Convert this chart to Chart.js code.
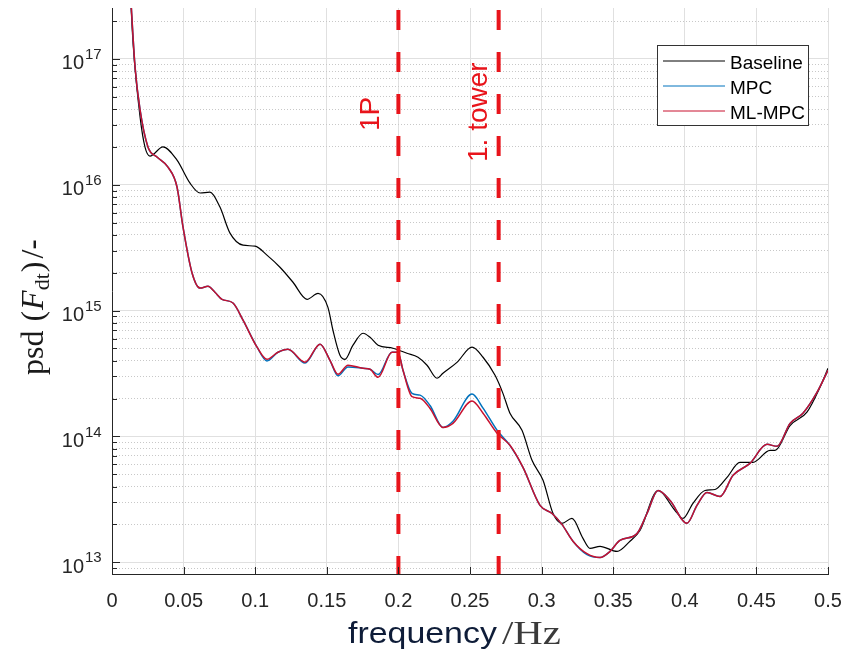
<!DOCTYPE html>
<html><head><meta charset="utf-8">
<script src="https://cdn.jsdelivr.net/npm/chart.js@4.4.1/dist/chart.umd.min.js"></script>
<style>html,body{margin:0;padding:0;background:#fff;}#wrap{width:846px;height:658px;}</style>
</head><body><div id="wrap"><canvas id="c" width="846" height="658"></canvas></div>
<script>
// ---------- data ----------
const baselineFreq = [0.0125,0.0147,0.0196,0.0230,0.0265,0.0356,0.0454,0.0545,0.0615,0.0684,0.0754,0.0824,0.0915,0.0999,0.1082,0.1173,0.1264,0.1362,0.1439,0.1508,0.1543,0.1592,0.1627,0.1683,0.1753,0.1802,0.1858,0.1962,0.2060,0.2137,0.2200,0.2270,0.2311,0.2409,0.2514,0.2591,0.2675,0.2730,0.2779,0.2863,0.2933,0.3010,0.3080,0.3142,0.3212,0.3289,0.3338,0.3408,0.3527,0.3617,0.3687,0.3813,0.3932,0.3987,0.4057,0.4141,0.4211,0.4295,0.4385,0.4476,0.4595,0.4630,0.4735,0.4853,0.4944,0.5000];
const baselinePsd = [4.0e17,1.34e17,3.46e16,2.0e16,1.69e16,2.0e16,1.57e16,1.03e16,8.6e15,8.75e15,6.65e15,4.13e15,3.31e15,3.25e15,2.76e15,2.21e15,1.68e15,1.23e15,1.37e15,1.06e15,6.98e14,4.42e14,4.10e14,5.31e14,6.61e14,6.14e14,5.31e14,5.02e14,4.58e14,4.26e14,3.68e14,2.90e14,3.18e14,3.88e14,5.12e14,4.26e14,3.06e14,2.20e14,1.53e14,1.12e14,6.46e13,4.48e13,2.44e13,2.04e13,2.23e13,1.55e13,1.29e13,1.34e13,1.22e13,1.47e13,1.79e13,3.72e13,2.58e13,2.23e13,2.94e13,3.72e13,3.79e13,4.73e13,6.22e13,6.22e13,7.74e13,7.74e13,1.22e14,1.56e14,2.46e14,3.48e14];

const ctrlFreq = [0.0125,0.0161,0.0196,0.0251,0.0314,0.0391,0.0454,0.0496,0.0559,0.0615,0.0670,0.0719,0.0768,0.0845,0.0915,0.1013,0.1082,0.1159,0.1229,0.1348,0.1453,0.1522,0.1578,0.1648,0.1753,0.1802,0.1858,0.1955,0.1997,0.2032,0.2095,0.2151,0.2221,0.2311,0.2381,0.2514,0.2591,0.2689,0.2779,0.2870,0.2989,0.3073,0.3142,0.3219,0.3317,0.3408,0.3478,0.3547,0.3666,0.3736,0.3813,0.3897,0.4015,0.4085,0.4155,0.4246,0.4337,0.4455,0.4574,0.4644,0.4735,0.4825,0.4923,0.5000];
const mlmpcPsd = [4.0e17,8.63e16,3.93e16,2.0e16,1.66e16,1.38e16,9.6e15,4.6e15,1.99e15,1.51e15,1.56e15,1.40e15,1.23e15,1.15e15,8.4e14,5.12e14,4.10e14,4.67e14,4.93e14,3.89e14,5.41e14,4.03e14,3.12e14,3.68e14,3.48e14,3.42e14,2.95e14,4.67e14,4.67e14,3.36e14,2.07e14,2.01e14,1.67e14,1.18e14,1.27e14,1.91e14,1.53e14,1.06e14,8.5e13,5.68e13,2.83e13,2.44e13,2.0e13,1.47e13,1.17e13,1.09e13,1.22e13,1.49e13,1.69e13,2.44e13,3.72e13,3.10e13,2.04e13,2.83e13,3.59e13,3.33e13,4.91e13,6.11e13,8.65e13,8.34e13,1.27e14,1.53e14,2.24e14,3.36e14];
const mpcPsd = [4.0e17,8.63e16,3.93e16,2.0e16,1.66e16,1.38e16,9.6e15,4.6e15,1.99e15,1.51e15,1.56e15,1.40e15,1.23e15,1.15e15,8.4e14,5.12e14,3.98e14,4.67e14,4.93e14,3.83e14,5.41e14,4.03e14,3.03e14,3.57e14,3.48e14,3.42e14,3.10e14,4.67e14,4.67e14,3.36e14,2.20e14,2.13e14,1.76e14,1.18e14,1.32e14,2.17e14,1.68e14,1.12e14,8.5e13,5.68e13,2.83e13,2.44e13,2.0e13,1.47e13,1.15e13,1.09e13,1.22e13,1.49e13,1.69e13,2.44e13,3.72e13,3.10e13,2.04e13,2.83e13,3.59e13,3.33e13,4.91e13,6.11e13,8.65e13,8.34e13,1.27e14,1.53e14,2.24e14,3.36e14];

const markerFreq = [0.2, 0.27];
const markerLabels = ['1P', '1. tower'];
const seriesNames = ['Baseline', 'MPC', 'ML-MPC'];
const xTickValues = [0,0.05,0.1,0.15,0.2,0.25,0.3,0.35,0.4,0.45,0.5];
const xTickLabels = ['0','0.05','0.1','0.15','0.2','0.25','0.3','0.35','0.4','0.45','0.5'];
const yTickExponents = [13,14,15,16,17];
const Y_MIN = 8.07e12, Y_MAX = 2.54e17;

// ---------- styling ----------
const COL = {base:'#000000', mpc:'#0072BD', ml:'#C8102E', marker:'#E8141B', text:'#262626'};
const SANS = '"Liberation Sans", Arial, sans-serif';
const SERIF = '"Liberation Serif", "Times New Roman", serif';

const pts = (xs, ys) => xs.map((x, i) => ({x, y: ys[i]}));
const markerSet = (f) => ({
  data: [{x:f, y:Y_MAX}, {x:f, y:Y_MIN}],
  borderColor: COL.marker, borderWidth: 4, borderDash: [20, 22], borderDashOffset: -2,
  pointRadius: 0, tension: 0, order: 0, borderCapStyle: 'butt'
});

const decor = {
  id: 'decor',
  afterDraw(chart) {
    const ctx = chart.ctx, xs = chart.scales.x, ys = chart.scales.y, a = chart.chartArea;
    ctx.save();
    // inward tick marks
    ctx.strokeStyle = COL.text; ctx.lineWidth = 1; ctx.beginPath();
    xs.ticks.forEach(t => { const px = Math.round(xs.getPixelForValue(t.value)) + 0.5; ctx.moveTo(px, a.bottom); ctx.lineTo(px, a.bottom - 7); });
    ys.ticks.forEach(t => { const py = Math.round(ys.getPixelForValue(t.value)) + 0.5; ctx.moveTo(a.left, py); ctx.lineTo(a.left + (t.major ? 8 : 5), py); });
    ctx.stroke();
    // y tick labels 10^n
    ctx.fillStyle = COL.text;
    yTickExponents.forEach(e => {
      const py = ys.getPixelForValue(Math.pow(10, e));
      ctx.font = '20px ' + SANS; ctx.textAlign = 'right'; ctx.textBaseline = 'middle';
      ctx.fillText('10', 84, py + 5);
      ctx.font = '15px ' + SANS; ctx.textAlign = 'left';
      ctx.fillText(String(e), 85, py - 4);
    });
    // marker labels
    ctx.fillStyle = COL.marker; ctx.font = '28px ' + SANS; ctx.textAlign = 'left'; ctx.textBaseline = 'alphabetic';
    const mOff = [[-19, 131], [-12, 162]];
    markerFreq.forEach((f, i) => {
      const px = xs.getPixelForValue(f);
      ctx.save(); ctx.translate(px + mOff[i][0], mOff[i][1]); ctx.rotate(-Math.PI / 2);
      ctx.fillText(markerLabels[i], 0, 0); ctx.restore();
    });
    // legend
    ctx.fillStyle = '#fff'; ctx.fillRect(657, 45, 151, 80);
    ctx.strokeStyle = '#333'; ctx.lineWidth = 1; ctx.strokeRect(657.5, 45.5, 151, 80);
    const lcol = [COL.base, COL.mpc, COL.ml];
    seriesNames.forEach((n, i) => {
      const y = 61 + i * 25;
      ctx.strokeStyle = lcol[i]; ctx.lineWidth = 1; ctx.beginPath(); ctx.moveTo(663, y); ctx.lineTo(725, y); ctx.stroke();
      ctx.fillStyle = '#000'; ctx.font = '19px ' + SANS; ctx.textAlign = 'left'; ctx.textBaseline = 'middle';
      ctx.fillText(n, 730, y + 3);
    });
    // x title
    ctx.save();
    ctx.fillStyle = '#0e1c38'; ctx.font = '30px ' + SANS; ctx.textBaseline = 'alphabetic'; ctx.textAlign = 'left';
    ctx.translate(348, 643); ctx.scale(1.13, 1); ctx.fillText('frequency', 0, 0);
    ctx.restore();
    ctx.save();
    ctx.fillStyle = '#3a3a3a'; ctx.font = '34px ' + SERIF; ctx.textBaseline = 'alphabetic'; ctx.textAlign = 'left';
    ctx.translate(502, 644); ctx.scale(1.2, 1); ctx.fillText('/Hz', 0, 0);
    ctx.restore();
    // y title
    ctx.save();
    ctx.translate(43, 375); ctx.rotate(-Math.PI / 2);
    ctx.fillStyle = '#1a1a1a'; ctx.textAlign = 'left'; ctx.textBaseline = 'alphabetic';
    let u = 0;
    const put = (s, font, dy, gap) => { ctx.font = font; ctx.fillText(s, u, dy); u += ctx.measureText(s).width + (gap || 0); };
    put('psd', '32px ' + SERIF, 0, 9);
    put('(', '32px ' + SERIF, 0, 1);
    put('F', 'italic 32px ' + SERIF, 0, 0);
    put('dt', '22px ' + SERIF, 6, 1);
    put(')', '32px ' + SERIF, 0, 3);
    put('/', '32px ' + SERIF, 0, 0);
    put('-', '32px ' + SANS, 0, 0);
    ctx.restore();
    ctx.restore();
  }
};

new Chart(document.getElementById('c'), {
  type: 'line',
  data: {
    datasets: [
      markerSet(markerFreq[0]),
      markerSet(markerFreq[1]),
      {label: seriesNames[2], data: pts(ctrlFreq, mlmpcPsd), borderColor: COL.ml, borderWidth: 1.5, pointRadius: 0, order: 1, cubicInterpolationMode: 'monotone'},
      {label: seriesNames[1], data: pts(ctrlFreq, mpcPsd), borderColor: COL.mpc, borderWidth: 1.5, pointRadius: 0, order: 2, cubicInterpolationMode: 'monotone'},
      {label: seriesNames[0], data: pts(baselineFreq, baselinePsd), borderColor: COL.base, borderWidth: 1.2, pointRadius: 0, order: 3, cubicInterpolationMode: 'monotone'}
    ]
  },
  options: {
    responsive: false, animation: false, devicePixelRatio: 1,
    layout: {padding: {top: 8, right: 18, left: 0, bottom: 0}},
    plugins: {legend: {display: false}, tooltip: {enabled: false}},
    scales: {
      x: {
        type: 'linear', min: 0, max: 0.5,
        afterBuildTicks: s => { s.ticks = xTickValues.map(v => ({value: v})); },
        afterFit: s => { s.height = 84; s.paddingLeft = 0; s.paddingRight = 0; },
        ticks: {autoSkip: false, maxRotation: 0, padding: 15, color: COL.text, font: {family: SANS, size: 20}, callback: (v, i) => xTickLabels[i]},
        grid: {color: '#e0e0e0', lineWidth: 1, drawTicks: false},
        border: {color: COL.text, width: 1}
      },
      y: {
        type: 'logarithmic', min: Y_MIN, max: Y_MAX,
        afterBuildTicks: s => {
          const t = [];
          for (let e = 12; e <= 17; e++) for (let m = 1; m <= 9; m++) {
            const v = m * Math.pow(10, e);
            if (v >= s.min && v <= s.max) t.push({value: v, major: m === 1});
          }
          s.ticks = t;
        },
        afterFit: s => { s.width = 112; s.paddingTop = 0; s.paddingBottom = 0; },
        ticks: {display: false, autoSkip: false},
        grid: {drawTicks: false, lineWidth: 1, color: c => (c.tick && c.tick.major) ? '#e0e0e0' : '#c8c8c8'},
        border: {color: COL.text, width: 1, dash: c => (c.tick && !c.tick.major) ? [1, 2] : []}
      }
    }
  },
  plugins: [decor]
});
</script>
</body></html>
